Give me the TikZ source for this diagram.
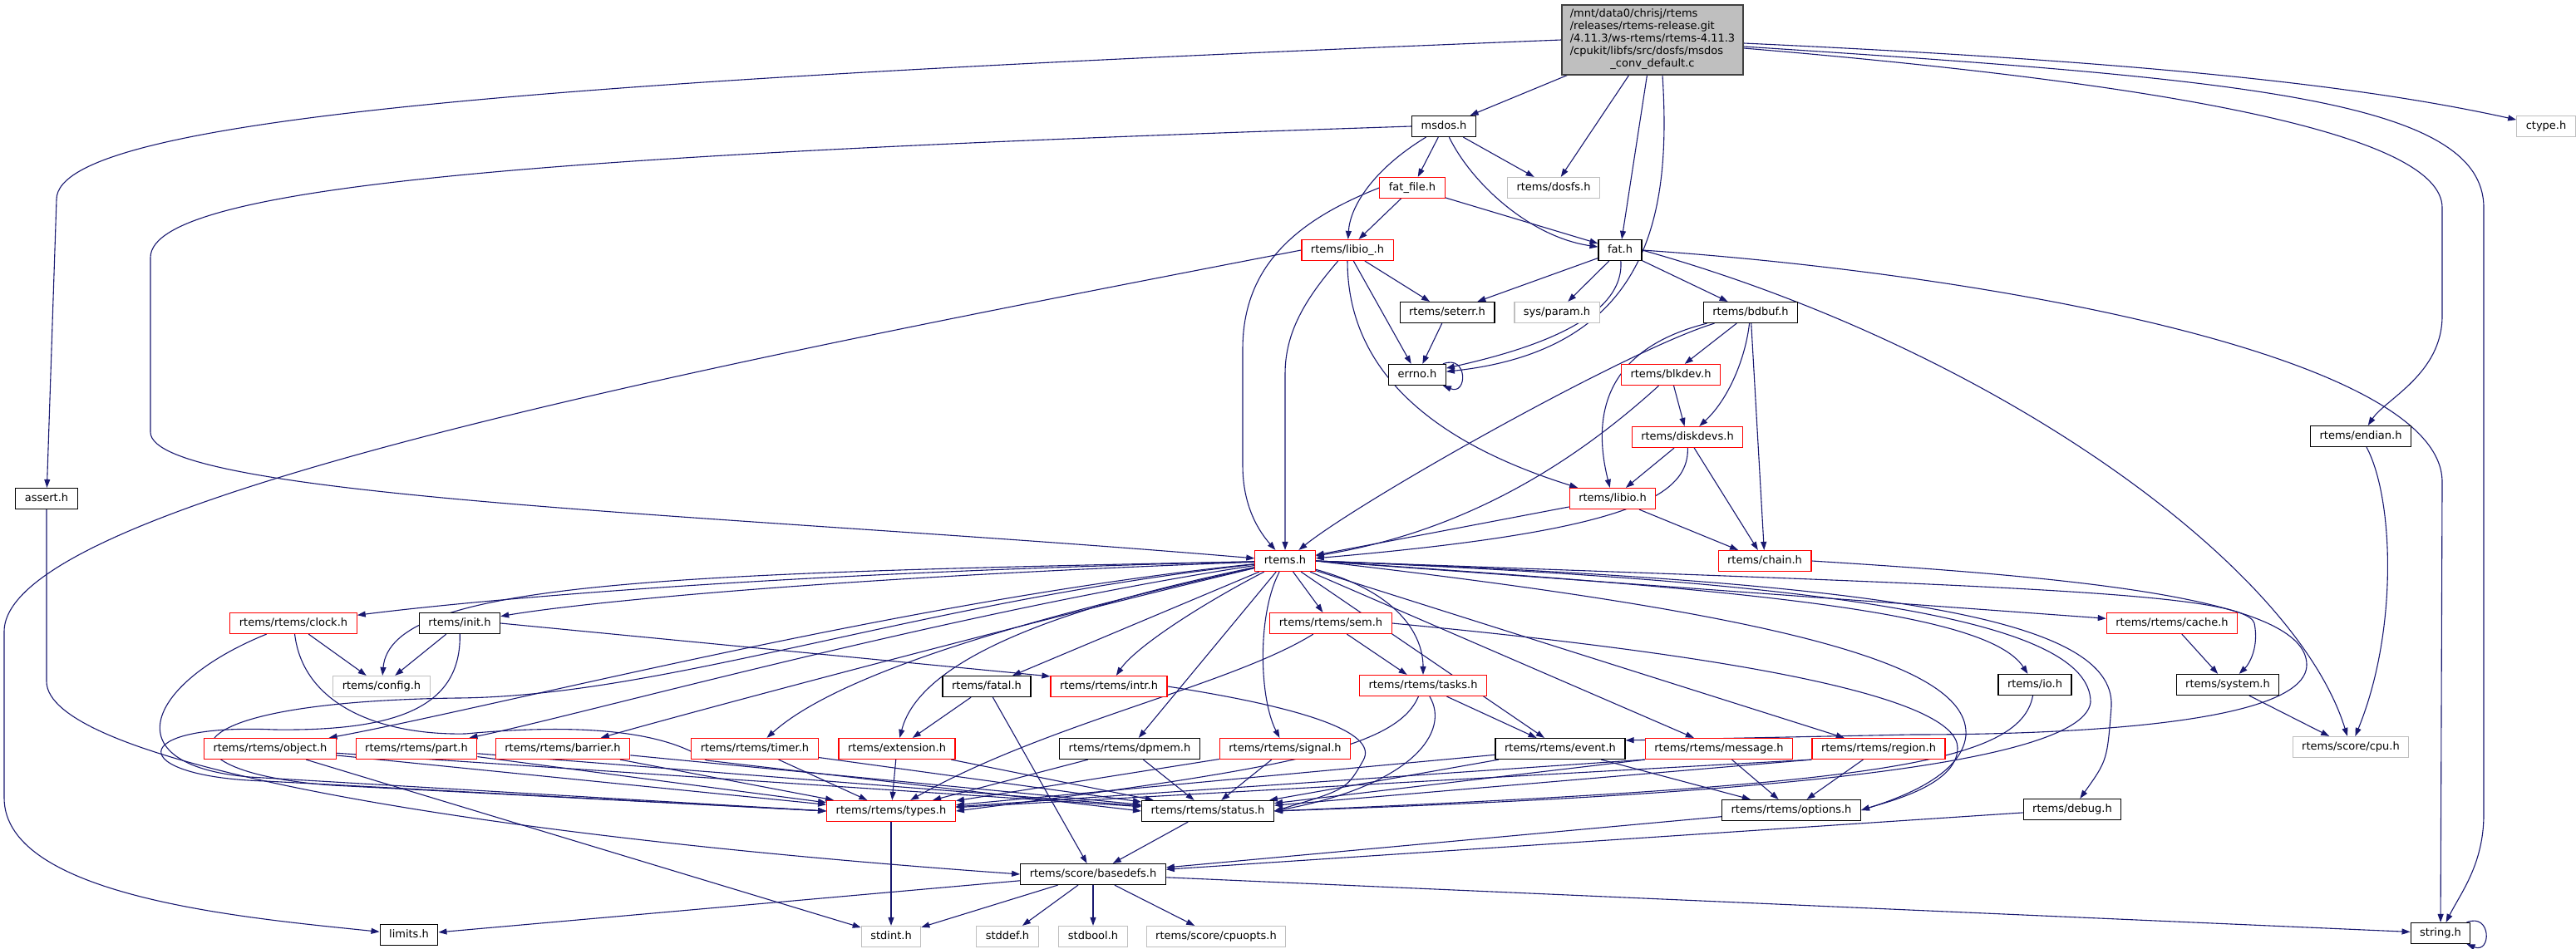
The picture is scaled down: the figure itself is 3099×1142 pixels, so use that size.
\documentclass[tikz,border=0pt]{standalone}
\usepackage{fontspec}
\setmainfont{DejaVu Sans}
\usetikzlibrary{arrows.meta}
\definecolor{edgeblue}{RGB}{25,25,112}
\definecolor{boxgray}{RGB}{191,191,191}
\pgfdeclarelayer{background}
\pgfsetlayers{background,main}
\tikzset{
  hdr/.style={draw=black, fill=white, line width=1.2pt, rectangle, inner xsep=11pt, inner ysep=0pt,
    minimum height=25pt, text height=10pt, text depth=3pt, font=\fontsize{13}{15}\selectfont},
  hdrred/.style={hdr, draw=red},
  hdrgray/.style={hdr, draw=boxgray},
  incl/.style={draw=edgeblue, line width=1.1pt, -{Triangle[length=10pt,width=7pt]}}
}

\begin{document}
\begin{tikzpicture}[x=1pt,y=-1pt]
  \useasboundingbox (0,0) rectangle (3099,1142);
  % nodes
  \node[draw=black!75, fill=boxgray, line width=1.2pt, minimum width=218pt, minimum height=84pt,
    inner sep=0pt, font=\fontsize{13}{15}\selectfont] (root) at (1988,48)
    {\begin{tabular}{@{}l@{}}/mnt/data0/chrisj/rtems\\/releases/rtems-release.git\\/4.11.3/ws-rtems/rtems-4.11.3\\/cpukit/libfs/src/dosfs/msdos\\\multicolumn{1}{@{}c@{}}{\_conv\_default.c}\end{tabular}};
  \node[hdr] (msdos) at (1737,152) {msdos.h};
  \node[hdrgray] (ctype) at (3063,152) {ctype.h};
  \node[hdrred] (fatfile) at (1699,226) {fat\_file.h};
  \node[hdrgray] (dosfs) at (1869,226) {rtems/dosfs.h};
  \node[hdrred] (libiop) at (1621,301) {rtems/libio\_.h};
  \node[hdr] (fat) at (1949,301) {fat.h};
  \node[hdr] (seterr) at (1741,376) {rtems/seterr.h};
  \node[hdrgray] (sysparam) at (1873,376) {sys/param.h};
  \node[hdr] (bdbuf) at (2106,376) {rtems/bdbuf.h};
  \node[hdr] (errno) at (1705,451) {errno.h};
  \node[hdrred] (blkdev) at (2010,451) {rtems/blkdev.h};
  \node[hdrred] (diskdevs) at (2030,526) {rtems/diskdevs.h};
  \node[hdr] (endian) at (2840,525) {rtems/endian.h};
  \node[hdrred] (libio) at (1940,600) {rtems/libio.h};
  \node[hdr] (assert) at (56,600) {assert.h};
  \node[hdrred] (rtemsh) at (1546,675) {rtems.h};
  \node[hdrred] (chain) at (2123,675) {rtems/chain.h};
  \node[hdrred] (clock) at (353,750) {rtems/rtems/clock.h};
  \node[hdr] (init) at (553,750) {rtems/init.h};
  \node[hdrred] (sem) at (1601,750) {rtems/rtems/sem.h};
  \node[hdrred] (cache) at (2613,750) {rtems/rtems/cache.h};
  \node[hdrgray] (config) at (459,826) {rtems/config.h};
  \node[hdr] (fatal) at (1187,826) {rtems/fatal.h};
  \node[hdrred] (intr) at (1334,826) {rtems/rtems/intr.h};
  \node[hdrred] (tasks) at (1712,825) {rtems/rtems/tasks.h};
  \node[hdr] (io) at (2448,824) {rtems/io.h};
  \node[hdr] (system) at (2680,824) {rtems/system.h};
  \node[hdrred] (object) at (325,901) {rtems/rtems/object.h};
  \node[hdrred] (part) at (501,901) {rtems/rtems/part.h};
  \node[hdrred] (barrier) at (677,901) {rtems/rtems/barrier.h};
  \node[hdrred] (timer) at (908,901) {rtems/rtems/timer.h};
  \node[hdrred] (extension) at (1079,901) {rtems/extension.h};
  \node[hdr] (dpmem) at (1359,901) {rtems/rtems/dpmem.h};
  \node[hdrred] (signal) at (1546,901) {rtems/rtems/signal.h};
  \node[hdr] (event) at (1877,901) {rtems/rtems/event.h};
  \node[hdrred] (message) at (2068,901) {rtems/rtems/message.h};
  \node[hdrred] (region) at (2260,901) {rtems/rtems/region.h};
  \node[hdrgray] (cpu) at (2828,899) {rtems/score/cpu.h};
  \node[hdrred] (types) at (1072,976) {rtems/rtems/types.h};
  \node[hdr] (status) at (1453,976) {rtems/rtems/status.h};
  \node[hdr] (options) at (2155,975) {rtems/rtems/options.h};
  \node[hdr] (debug) at (2493,974) {rtems/debug.h};
  \node[hdr] (basedefs) at (1315,1052) {rtems/score/basedefs.h};
  \node[hdrgray] (stdint) at (1072,1127) {stdint.h};
  \node[hdrgray] (stddef) at (1212,1127) {stddef.h};
  \node[hdrgray] (stdbool) at (1315,1127) {stdbool.h};
  \node[hdrgray] (cpuopts) at (1463,1127) {rtems/score/cpuopts.h};
  \node[hdr] (limits) at (492,1125) {limits.h};
  \node[hdr] (string) at (2936,1123) {string.h};

  \begin{pgfonlayer}{background}
  % includes of the source file
  \draw[incl] (root) -- (msdos);
  \draw[incl] (root) -- (dosfs);
  \draw[incl] (root) -- (fat);
  \draw[incl] ([xshift=12pt]root.south) .. controls (2010,250) and (1990,420) .. (errno);
  \draw[incl] (root.west) .. controls (700,95) and (68,140) .. (68,240) -- (assert);
  \draw[incl] ([yshift=-4pt]root.east) .. controls (2600,75) and (2850,105) .. (ctype);
  \draw[incl] ([yshift=-10pt]root.east) .. controls (2600,100) and (2938,160) .. (2938,250) -- (2938,380) .. controls (2938,450) and (2870,480) .. (endian);
  \draw[incl] ([yshift=-8pt]root.east) .. controls (2700,95) and (2988,120) .. (2988,250) -- (2988,980) .. controls (2988,1040) and (2960,1075) .. (string);

  % msdos.h, fat_file.h, libio_.h
  \draw[incl] (msdos) -- (fatfile);
  \draw[incl] (msdos) .. controls (1650,205) and (1624,250) .. (libiop);
  \draw[incl] (msdos) .. controls (1770,220) and (1840,285) .. (fat);
  \draw[incl] (msdos) -- (dosfs);
  \draw[incl] (msdos.west) .. controls (700,185) and (181,220) .. (181,310) -- (181,520) .. controls (181,600) and (900,620) .. (rtemsh);
  \draw[incl] (fatfile) -- (libiop);
  \draw[incl] (fatfile) -- (fat);
  \draw[incl] (fatfile.west) .. controls (1560,265) and (1495,320) .. (1495,420) -- (1495,560) .. controls (1495,610) and (1515,640) .. (rtemsh);
  \draw[incl] (libiop) .. controls (1570,360) and (1546,400) .. (1546,450) -- (rtemsh);
  \draw[incl] (libiop) .. controls (1621,430) and (1700,525) .. (libio);
  \draw[incl] (libiop) -- (errno);
  \draw[incl] (libiop) -- (seterr);
  \draw[incl] (libiop.west) .. controls (900,430) and (5,600) .. (5,760) -- (5,960) .. controls (5,1080) and (300,1105) .. (limits);

  % fat.h and below
  \draw[incl] (fat) -- (seterr);
  \draw[incl] (fat) -- (sysparam);
  \draw[incl] (fat) .. controls (1955,390) and (1820,425) .. (errno);
  \draw[incl] (fat) -- (bdbuf);
  \draw[incl] (fat.east) .. controls (2400,330) and (2938,430) .. (2938,580) -- (string);
  \draw[incl] (fat.east) .. controls (2400,420) and (2760,680) .. (cpu);
  \draw[incl] (seterr) -- (errno);
  \draw[incl] ([xshift=-4pt]errno.north east) .. controls +(30,-12) and +(30,12) .. ([xshift=-4pt]errno.south east);
  \draw[incl] (bdbuf) .. controls (1960,420) and (1640,600) .. (rtemsh);
  \draw[incl] (bdbuf) .. controls (1930,420) and (1915,500) .. (libio);
  \draw[incl] (bdbuf) -- (blkdev);
  \draw[incl] (bdbuf) .. controls (2100,430) and (2080,480) .. (diskdevs);
  \draw[incl] (bdbuf) -- (chain);
  \draw[incl] (blkdev) -- (diskdevs);
  \draw[incl] (blkdev) .. controls (1890,560) and (1760,640) .. (rtemsh);
  \draw[incl] (diskdevs) -- (libio);
  \draw[incl] (diskdevs) -- (chain);
  \draw[incl] (diskdevs) .. controls (2032,600) and (1950,640) .. (rtemsh);
  \draw[incl] (libio) -- (rtemsh);
  \draw[incl] (libio) -- (chain);
  \draw[incl] (chain.east) .. controls (2500,695) and (2775,720) .. (2775,800) .. controls (2775,870) and (2500,884) .. (2300,884) -- ([yshift=-3pt]event.north east);

  % rtems.h
  \draw[incl] (rtemsh) .. controls (900,690) and (550,725) .. (clock);
  \draw[incl] (rtemsh) .. controls (800,690) and (470,700) .. (config);
  \draw[incl] (rtemsh) .. controls (1000,695) and (700,725) .. (init);
  \draw[incl] (rtemsh) .. controls (1100,720) and (600,850) .. (object);
  \draw[incl] (rtemsh) .. controls (1150,735) and (700,860) .. (part);
  \draw[incl] (rtemsh) .. controls (1250,745) and (820,860) .. (barrier);
  \draw[incl] (rtemsh) .. controls (1300,730) and (1020,800) .. (timer);
  \draw[incl] (rtemsh) .. controls (1330,720) and (1110,780) .. (extension);
  \draw[incl] (rtemsh) -- (fatal);
  \draw[incl] (rtemsh) .. controls (1440,730) and (1365,780) .. (intr);
  \draw[incl] (rtemsh) -- (dpmem);
  \draw[incl] (rtemsh) .. controls (1512,740) and (1515,840) .. (signal);
  \draw[incl] (rtemsh) -- (sem);
  \draw[incl] (rtemsh) .. controls (1690,715) and (1712,770) .. (tasks);
  \draw[incl] (rtemsh) -- (event);
  \draw[incl] (rtemsh) -- (message);
  \draw[incl] (rtemsh) -- (region);
  \draw[incl] (rtemsh.east) .. controls (2150,740) and (2370,800) .. (2365,885) .. controls (2360,935) and (2280,962) .. (options.east);
  \draw[incl] (rtemsh.east) .. controls (2100,710) and (2390,735) .. (io);
  \draw[incl] (rtemsh.east) -- (cache);
  \draw[incl] (rtemsh.east) .. controls (2400,705) and (2700,712) .. (2712,750) .. controls (2718,780) and (2705,800) .. (system);
  \draw[incl] (rtemsh.east) .. controls (2250,700) and (2545,740) .. (2540,850) .. controls (2535,915) .. (debug);
  \draw[incl] (rtemsh.east) .. controls (2200,700) and (2515,745) .. (2515,845) .. controls (2505,930) and (2000,960) .. (status.east);
  \draw[incl] (rtemsh) .. controls (1100,725) and (800,838) .. (550,840) .. controls (180,845) and (190,930) .. (400,945) -- (types.west);

  % rtems api headers
  \draw[incl] (clock) -- (config);
  \draw[incl] (clock) .. controls (180,820) and (130,920) .. (300,935) -- (types.west);
  \draw[incl] (clock) .. controls (365,850) and (460,885) .. (560,883) .. controls (700,870) and (800,880) .. (850,915) -- (status.west);
  \draw[incl] (init) -- (config);
  \draw[incl] (init) .. controls (555,850) and (480,880) .. (330,878) .. controls (150,870) and (150,935) .. (320,940) -- (types.west);
  \draw[incl] (init.east) -- ([yshift=-1pt]intr.north west);
  \draw[incl] (object) -- (types);
  \draw[incl] (object) -- (status);
  \draw[incl] (object) -- (stdint);
  \draw[incl] (part) -- (types);
  \draw[incl] (part) -- (status);
  \draw[incl] (barrier) -- (types);
  \draw[incl] (barrier) -- (status);
  \draw[incl] (timer) -- (types);
  \draw[incl] (timer) -- (status);
  \draw[incl] (extension) -- (types);
  \draw[incl] (extension) -- (status);
  \draw[incl] (fatal) -- (extension);
  \draw[incl] (fatal) -- (basedefs);
  \draw[incl] (intr.east) .. controls (1560,850) and (1660,880) .. (1640,915) .. controls (1620,950) .. (status.east);
  \draw[incl] (dpmem) -- (types);
  \draw[incl] (dpmem) -- (status);
  \draw[incl] (signal) -- (types);
  \draw[incl] (signal) -- (status);
  \draw[incl] (sem) .. controls (1480,825) and (1260,870) .. (types);
  \draw[incl] (sem) -- (tasks);
  \draw[incl] (sem.east) .. controls (2100,790) and (2355,840) .. (2355,900) .. controls (2355,945) and (2270,965) .. (options.east);
  \draw[incl] (tasks) -- (event);
  \draw[incl] (tasks) .. controls (1680,900) and (1550,925) .. (types.east);
  \draw[incl] (tasks) .. controls (1745,880) and (1700,945) .. (status.east);
  \draw[incl] (event) -- (types);
  \draw[incl] (event) -- (status);
  \draw[incl] (event) -- (options);
  \draw[incl] (message.south west) -- (types);
  \draw[incl] (message.south west) -- (status);
  \draw[incl] (message) -- (options);
  \draw[incl] (region.south west) -- (types);
  \draw[incl] (region.south west) -- (status);
  \draw[incl] (region) -- (options);
  \draw[incl] (io) .. controls (2430,920) and (2250,945) .. (status.east);
  \draw[incl] (cache) -- (system);
  \draw[incl] (system) -- (cpu);
  \draw[incl] (endian) .. controls (2880,600) and (2885,760) .. (cpu);

  % score
  \draw[incl] (debug) -- (basedefs);
  \draw[incl] (options) -- (basedefs);
  \draw[incl] (status) -- (basedefs);
  \draw[incl] (types) -- (stdint);
  \draw[incl] (assert) -- (56,820) .. controls (56,910) and (500,1000) .. (basedefs.west);
  \draw[incl] (basedefs) -- (limits);
  \draw[incl] (basedefs) -- (stdint);
  \draw[incl] (basedefs) -- (stddef);
  \draw[incl] (basedefs) -- (stdbool);
  \draw[incl] (basedefs) -- (cpuopts);
  \draw[incl] (basedefs) -- (string);
  \draw[incl] ([xshift=-5pt]string.north east) .. controls +(30,-12) and +(30,12) .. ([xshift=-5pt]string.south east);
  \end{pgfonlayer}
\end{tikzpicture}
\end{document}
